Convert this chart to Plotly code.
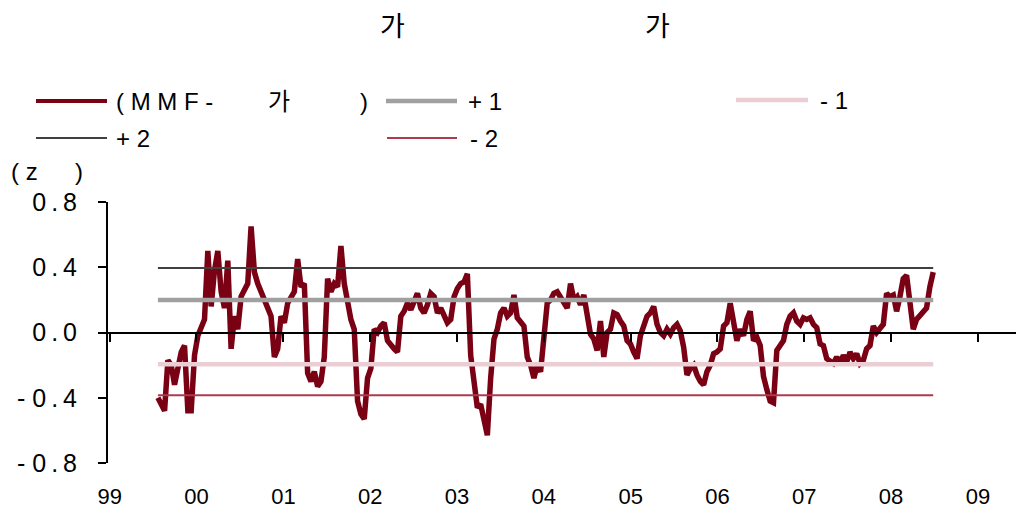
import pandas as pd
import plotly.graph_objects as go

# z-score series (biweekly)
series_start = "1999-07-23"
mmf_z = [
    -0.40, -0.44, -0.48, -0.17, -0.20, -0.32, -0.22, -0.12, -0.08, -0.48,
    -0.48, -0.14, -0.02, 0.03, 0.08, 0.50, 0.16, 0.38, 0.50, 0.25,
    0.15, 0.44, -0.10, 0.10, 0.02, 0.22, 0.27, 0.30, 0.65, 0.37,
    0.30, 0.25, 0.20, 0.17, 0.10, -0.15, -0.10, 0.10, 0.06, 0.18,
    0.22, 0.25, 0.45, 0.28, 0.30, -0.25, -0.30, -0.24, -0.33, -0.30,
    -0.15, 0.33, 0.25, 0.30, 0.28, 0.53, 0.30, 0.18, 0.08, 0.02,
    -0.42, -0.50, -0.53, -0.28, -0.22, 0.02, 0.00, 0.04, 0.06, -0.05,
    -0.08, -0.10, -0.12, 0.10, 0.13, 0.18, 0.14, 0.20, 0.24, 0.15,
    0.12, 0.17, 0.24, 0.22, 0.12, 0.15, 0.10, 0.06, 0.08, 0.22,
    0.27, 0.30, 0.31, 0.36, -0.14, -0.32, -0.46, -0.44, -0.55, -0.63,
    -0.28, -0.04, 0.02, 0.12, 0.15, 0.10, 0.12, 0.23, 0.09, 0.06,
    0.04, -0.15, -0.20, -0.28, -0.20, -0.24, 0.00, 0.18, 0.20, 0.24,
    0.25, 0.22, 0.18, 0.15, 0.30, 0.20, 0.22, 0.17, 0.23, 0.10,
    -0.01, -0.04, -0.11, 0.07, -0.15, 0.00, 0.02, 0.12, 0.11, 0.07,
    0.04, -0.05, -0.07, -0.12, -0.16, -0.02, 0.05, 0.10, 0.12, 0.16,
    0.05, 0.00, -0.02, 0.02, -0.01, 0.03, 0.05, 0.01, -0.09, -0.26,
    -0.22, -0.20, -0.26, -0.30, -0.32, -0.24, -0.20, -0.13, -0.12, -0.10,
    0.04, 0.06, 0.18, 0.08, -0.05, 0.02, -0.02, 0.08, 0.13, -0.05,
    -0.03, -0.08, -0.27, -0.35, -0.42, -0.43, -0.11, -0.08, -0.05, 0.05,
    0.10, 0.12, 0.07, 0.05, 0.09, 0.08, 0.09, 0.05, 0.03, -0.07,
    -0.08, -0.16, -0.18, -0.19, -0.15, -0.19, -0.14, -0.18, -0.12, -0.16,
    -0.13, -0.19, -0.17, -0.10, -0.08, 0.04, 0.00, 0.03, 0.05, 0.24,
    0.22, 0.23, 0.13, 0.22, 0.33, 0.35, 0.15, 0.02, 0.08, 0.10,
    0.12, 0.15, 0.28, 0.37,
]
band_values = {"+1": 0.20, "-1": -0.195, "+2": 0.395, "-2": -0.385}
year_ticks = list(range(1999, 2010))
year_labels = [f"{y % 100:02d}" for y in year_ticks]
y_ticks = [0.8, 0.4, 0.0, -0.4, -0.8]
TS = "\u2009"
y_labels = [f"0{TS}.{TS}8", f"0{TS}.{TS}4", f"0{TS}.{TS}0",
            f"-\u00a00{TS}.{TS}4", f"-\u00a00{TS}.{TS}8"]

dates = pd.date_range(series_start, periods=len(mmf_z), freq="14D")

MAIN = "#7a0014"
band_styles = {
    "+1": dict(color="#a0a0a0", width=4.5),
    "-1": dict(color="#ebcdd4", width=4.5),
    "+2": dict(color="#404040", width=2),
    "-2": dict(color="#ad3a4f", width=2),
}

# page body adds an 8px offset, so figure is drawn 8px smaller
OFF = 8
W, H = 1024 - OFF, 518 - OFF
L, R, T, B = 108 - OFF, 0, 202 - OFF, 518 - 463
PW, PH = W - L - R, H - T - B


def px(x):
    return (x - OFF - L) / PW


def py(y):
    return (H - B - (y - OFF)) / PH


fig = go.Figure()
fig.add_trace(go.Scatter(x=dates, y=mmf_z, mode="lines",
                         line=dict(color=MAIN, width=5.5), showlegend=False))
for key in ["+1", "-1", "+2", "-2"]:
    fig.add_trace(go.Scatter(x=[dates[0], dates[-1]], y=[band_values[key]] * 2,
                             mode="lines", line=band_styles[key], showlegend=False))

FONT = "Liberation Sans, Arial, Noto Sans CJK KR, sans-serif"

annotations = []
shapes = []


def text(x, y, s, size=24, anchor="left"):
    annotations.append(dict(x=px(x), y=py(y), xref="paper", yref="paper", text=s,
                            showarrow=False, xanchor=anchor, yanchor="middle",
                            font=dict(family=FONT, size=size, color="#000")))


def legline(x0, x1, y, style):
    shapes.append(dict(type="line", xref="paper", yref="paper", x0=px(x0), x1=px(x1),
                       y0=py(y), y1=py(y), line=style))


# title (other glyphs render blank in the original)
text(392, 27, "가", size=27, anchor="center")
text(657, 27, "가", size=27, anchor="center")

# legend
legline(36, 107, 101, dict(color=MAIN, width=4))
text(114, 101, "( M M F -")
text(266, 101, "가")
text(358, 101, ")")
legline(386, 457, 101, band_styles["+1"])
text(466, 101, "+ 1")
legline(736, 808, 100, band_styles["-1"])
text(818, 100, "- 1")
legline(36, 107, 138, band_styles["+2"])
text(114, 138, "+ 2")
legline(387, 457, 138, band_styles["-2"])
text(468, 138, "- 2")

# unit label
text(9, 172, "( z")
text(73, 172, ")")

fig.update_layout(
    width=W, height=H,
    margin=dict(l=L, r=R, t=T, b=B),
    plot_bgcolor="white", paper_bgcolor="white",
    showlegend=False,
    annotations=annotations,
    shapes=shapes,
    xaxis=dict(
        type="date",
        range=["1998-12-25", "2009-07-14"],
        tickmode="array",
        tickvals=[f"{y}-01-01" for y in year_ticks],
        ticktext=year_labels,
        anchor="free", position=0.5,
        showline=True, linecolor="black", linewidth=2,
        ticks="outside", ticklen=8, tickwidth=2, tickcolor="black",
        showgrid=False, zeroline=False,
        ticklabelstandoff=136,
        tickfont=dict(family="Liberation Sans Narrow, Arial Narrow, " + FONT, size=22, color="#000"),
    ),
    yaxis=dict(
        range=[-0.8, 0.8],
        tickmode="array", tickvals=y_ticks, ticktext=y_labels,
        showline=True, linecolor="black", linewidth=2,
        ticks="outside", ticklen=8, tickwidth=2, tickcolor="black",
        showgrid=False, zeroline=False,
        ticklabelstandoff=16,
        tickfont=dict(family=FONT, size=25, color="#000"),
    ),
)

fig.write_html("out.html")
